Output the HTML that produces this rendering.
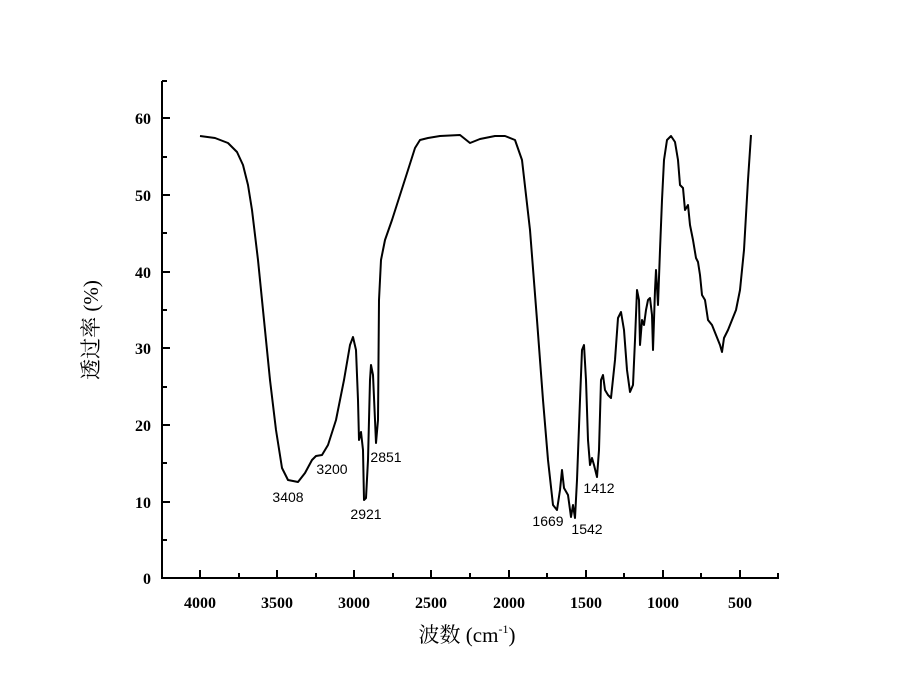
<!DOCTYPE html><html><head><style>body{margin:0;background:#fff}</style></head><body>
<svg width="900" height="694" xmlns="http://www.w3.org/2000/svg" font-family="Liberation Serif, serif">
<rect width="900" height="694" fill="#fff"/>
<g stroke="#000" stroke-width="2" fill="none">
<path d="M162,81 V578 H779"/>
<path d="M162,81 h5 M162,118 h8 M162,157 h5 M162,195 h8 M162,233 h5 M162,272 h8 M162,310 h5 M162,348 h8 M162,387 h5 M162,425 h8 M162,463 h5 M162,502 h8 M162,540 h5"/>
<path d="M200,578 v-8 M239,578 v-5 M277,578 v-8 M316,578 v-5 M354,578 v-8 M393,578 v-5 M431,578 v-8 M470,578 v-5 M509,578 v-8 M547,578 v-5 M586,578 v-8 M624,578 v-5 M663,578 v-8 M701,578 v-5 M740,578 v-8 M778,578 v-5"/>
</g>
<g font-weight="bold" font-size="16" text-anchor="end">
<text x="151" y="124">60</text><text x="151" y="201">50</text><text x="151" y="278">40</text><text x="151" y="354">30</text><text x="151" y="431">20</text><text x="151" y="508">10</text><text x="151" y="584">0</text></g>
<g font-weight="bold" font-size="16" text-anchor="middle">
<text x="200" y="608">4000</text><text x="277" y="608">3500</text><text x="354" y="608">3000</text><text x="431" y="608">2500</text><text x="509" y="608">2000</text><text x="586" y="608">1500</text><text x="663" y="608">1000</text><text x="740" y="608">500</text></g>
<text x="467" y="642" text-anchor="middle" font-size="21" font-family="Liberation Serif, Noto Serif CJK SC, serif">波数 (cm<tspan font-size="12" dy="-9">-1</tspan><tspan dy="9">)</tspan></text>
<text transform="translate(98,330) rotate(-90)" text-anchor="middle" font-size="21" font-family="Liberation Serif, Noto Serif CJK SC, serif">透过率 (%)</text>
<path fill="none" stroke="#000" stroke-width="2" stroke-linejoin="round" d="M200,136 L215,138 L228,143 L237,152 L243,165 L248,185 L252,210 L258,260 L264,320 L270,380 L276,430 L282,468 L288,480 L298,482 L305,473 L312,460 L316,456 L322,455 L328,445 L336,420 L344,380 L350,345 L353,337 L356,350 L358,400 L359,440 L361,432 L363,450 L364,500 L366,498 L368,460 L370,380 L371,365 L373,375 L375,420 L376,443 L378,420 L379,300 L381,260 L385,240 L392,220 L400,195 L408,170 L415,148 L420,140 L428,138 L440,136 L460,135 L470,143 L480,139 L495,136 L505,136 L515,140 L522,160 L530,230 L537,320 L543,400 L548,460 L553,505 L557,510 L560,490 L562,470 L564,488 L568,495 L571,517 L573,505 L575,518 L577,480 L580,400 L582,350 L584,345 L586,380 L588,440 L590,465 L592,458 L594,465 L597,477 L599,450 L601,380 L603,375 L605,390 L608,395 L611,398 L615,360 L618,318 L621,312 L624,330 L627,370 L630,392 L633,385 L635,340 L637,290 L639,300 L640,345 L642,320 L644,325 L646,310 L648,300 L650,298 L652,315 L653,350 L655,290 L656,270 L658,305 L660,250 L662,200 L664,160 L667,140 L671,136 L675,142 L678,160 L680,185 L683,188 L685,210 L688,205 L690,225 L693,240 L696,258 L698,262 L700,275 L702,295 L705,300 L708,320 L712,325 L716,335 L720,345 L722,352 L724,338 L728,330 L732,320 L736,310 L740,290 L744,250 L748,180 L751,135"/>
<g font-family="Liberation Sans, sans-serif" font-size="14" text-anchor="middle">
<text x="288" y="502">3408</text><text x="332" y="474">3200</text><text x="366" y="519">2921</text><text x="386" y="462">2851</text><text x="548" y="526">1669</text><text x="587" y="534">1542</text><text x="599" y="493">1412</text></g>
</svg></body></html>
